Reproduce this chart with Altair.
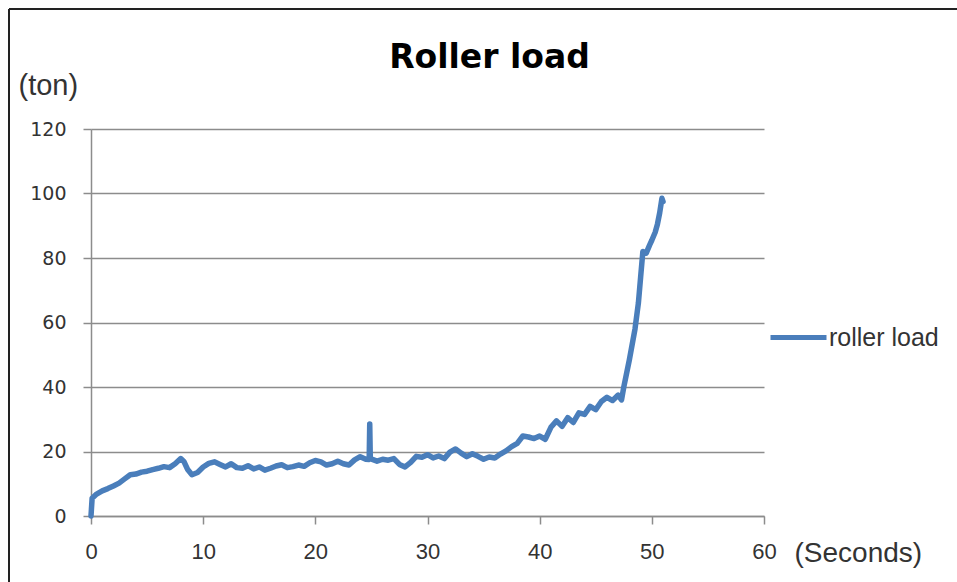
import altair as alt
import pandas as pd

# Roller load record (seconds, tons)
seconds = [
    0.0, 0.1, 0.5, 1.0, 1.5, 2.0, 2.5, 3.0, 3.5, 4.0, 4.5, 5.0, 5.5, 6.0, 6.5,
    7.0, 7.5, 8.0, 8.3, 8.6, 9.0, 9.5, 10.0, 10.5, 11.0, 11.5, 12.0, 12.5,
    13.0, 13.5, 14.0, 14.5, 15.0, 15.5, 16.0, 16.5, 17.0, 17.5, 18.0, 18.5,
    19.0, 19.5, 20.0, 20.5, 21.0, 21.5, 22.0, 22.5, 23.0, 23.5, 24.0, 24.5,
    24.8, 24.85, 24.9, 25.5, 26.0, 26.5, 27.0, 27.5, 28.0, 28.5, 29.0, 29.5,
    30.0, 30.5, 31.0, 31.5, 32.0, 32.5, 33.0, 33.5, 34.0, 34.5, 35.0, 35.5,
    36.0, 36.5, 37.0, 37.5, 38.0, 38.5, 39.0, 39.5, 40.0, 40.5, 41.0, 41.5,
    42.0, 42.5, 43.0, 43.5, 44.0, 44.5, 45.0, 45.5, 46.0, 46.5, 47.0, 47.3,
    47.5, 48.0, 48.5, 48.8, 49.0, 49.2, 49.5, 49.8, 50.0, 50.3, 50.5, 50.7,
    50.9, 51.0,
]
load_ton = [
    0.0, 5.5, 6.8, 7.8, 8.5, 9.3, 10.2, 11.5, 12.8, 13.0, 13.6, 13.9, 14.4, 14.8, 15.3,
    15.0, 16.2, 17.8, 16.8, 14.5, 12.8, 13.5, 15.2, 16.3, 16.8, 16.0, 15.2, 16.2,
    15.0, 14.8, 15.6, 14.6, 15.2, 14.2, 14.8, 15.5, 15.9, 15.0, 15.3, 15.8,
    15.4, 16.5, 17.2, 16.8, 15.8, 16.2, 17.0, 16.2, 15.8, 17.4, 18.4, 17.6,
    17.5, 28.5, 17.8, 17.0, 17.6, 17.3, 17.8, 16.0, 15.2, 16.6, 18.5, 18.2,
    19.0, 18.0, 18.6, 17.8, 19.8, 20.8, 19.5, 18.4, 19.3, 18.5, 17.6, 18.3,
    18.0, 19.2, 20.2, 21.5, 22.5, 24.8, 24.5, 24.0, 24.8, 23.8, 27.5, 29.5,
    27.8, 30.5, 29.0, 32.0, 31.5, 34.0, 33.0, 35.5, 36.8, 35.8, 37.5, 36.0,
    40.0, 48.5, 58.0, 66.0, 74.0, 82.0, 81.5, 84.0, 85.5, 88.0, 90.5, 94.0,
    98.5, 97.5,
]
series_name = "roller load"

x_ticks = [0, 10, 20, 30, 40, 50, 60]
y_ticks = [0, 20, 40, 60, 80, 100, 120]

df = pd.DataFrame({"t": seconds, "load": load_ton, "series": series_name})

LINE_BLUE = "#4a7ebb"
GRID = "#8c8c8c"
TEXT = "#333333"

line = (
    alt.Chart(df)
    .mark_line(strokeWidth=5.5, strokeJoin="round", strokeCap="round")
    .encode(
        x=alt.X(
            "t:Q",
            scale=alt.Scale(domain=[0, 60], nice=False),
            axis=alt.Axis(
                values=x_ticks,
                grid=False,
                title="(Seconds)",
                titleAngle=0,
                titleAlign="left",
                titleBaseline="alphabetic",
                titleX=703,
                titleY=45,
                titleFont="Liberation Sans",
                titleFontSize=28,
                titleFontWeight="normal",
                titleColor=TEXT,
                labelFont="Liberation Sans",
                labelFontSize=22,
                labelColor=TEXT,
                labelFlush=False,
                labelPadding=17,
                tickSize=8,
                tickColor=GRID,
                tickWidth=1.5,
                domainColor=GRID,
                domainWidth=1.5,
            ),
        ),
        y=alt.Y(
            "load:Q",
            scale=alt.Scale(domain=[0, 120], nice=False),
            axis=alt.Axis(
                values=y_ticks,
                grid=True,
                gridColor=GRID,
                gridWidth=1.5,
                title="(ton)",
                titleAngle=0,
                titleAlign="left",
                titleBaseline="alphabetic",
                titleX=-73,
                titleY=-35,
                titleFont="Liberation Sans",
                titleFontSize=29,
                titleFontWeight="normal",
                titleColor=TEXT,
                labelFont="DejaVu Sans",
                labelFontSize=19,
                labelColor=TEXT,
                labelPadding=17,
                tickSize=8,
                tickColor=GRID,
                tickWidth=1.5,
                domainColor=GRID,
                domainWidth=1.5,
            ),
        ),
        color=alt.Color(
            "series:N",
            scale=alt.Scale(domain=[series_name], range=[LINE_BLUE]),
            legend=alt.Legend(
                title=None,
                orient="none",
                legendX=677,
                legendY=178,
                symbolType="stroke",
                symbolSize=3136,
                symbolStrokeWidth=5,
                labelFont="Liberation Sans",
                labelFontSize=25,
                labelColor=TEXT,
                labelOffset=0,
                padding=0,
            ),
        ),
    )
)

# Frame lines along the left and top edges of the chart area
frame_src = alt.Data(values=[{"k": 1}])
frame_left = alt.Chart(frame_src).mark_rule(color="#222222", strokeWidth=2).encode(
    x=alt.value(-82), y=alt.value(-120), y2=alt.value(470)
)
frame_top = alt.Chart(frame_src).mark_rule(color="#222222", strokeWidth=2).encode(
    x=alt.value(-82), x2=alt.value(880), y=alt.value(-120)
)

chart = (
    alt.layer(line, frame_left, frame_top)
    .properties(
        width=673,
        height=387,
        title=alt.TitleParams(
            "Roller load",
            font="DejaVu Sans",
            fontSize=33,
            fontWeight="bold",
            color="#000000",
            anchor="middle",
            frame="group",
            baseline="alphabetic",
            dx=62,
            dy=93,
            offset=0,
        ),
        autosize=alt.AutoSizeParams(type="none"),
        padding={"left": 91, "top": 129, "right": 193, "bottom": 66},
        background="white",
    )
    .configure_view(stroke=None)
)

chart.save("out.html", embed_options={"renderer": "svg", "actions": False})
